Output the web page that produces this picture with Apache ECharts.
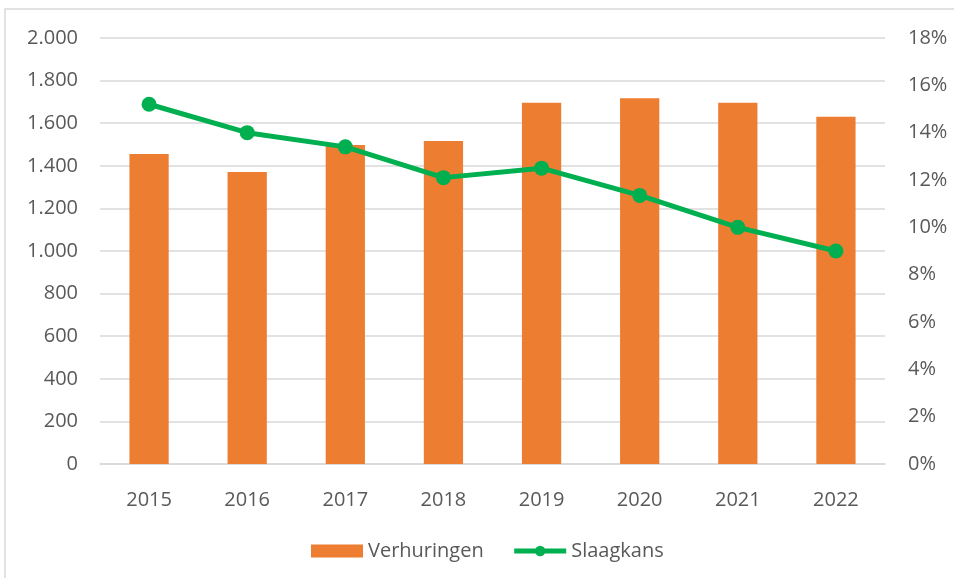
<!DOCTYPE html>
<html>
<head>
<meta charset="utf-8">
<script src="https://cdn.jsdelivr.net/npm/echarts@6/dist/echarts.min.js"></script>
<style>html,body{margin:0;padding:0;background:#fff;}#c{width:954px;height:578px;}</style>
</head>
<body>
<div id="c"></div>
<script>
const categories = ['2015','2016','2017','2018','2019','2020','2021','2022'];
const verhuringen = [1455, 1371, 1498, 1516, 1696, 1717, 1696, 1630];
const slaagkans = [15.2, 14.0, 13.4, 12.1, 12.5, 11.35, 10.0, 9.0];
const leftTicks = {min: 0, max: 2000, interval: 200};
const rightTicks = {min: 0, max: 18, interval: 2};

const FONT = '"Open Sans", "Liberation Sans", sans-serif';
const chart = echarts.init(document.getElementById('c'));
chart.setOption({
  animation: false,
  backgroundColor: '#ffffff',
  textStyle: {fontFamily: FONT},
  graphic: [{
    type: 'rect',
    shape: {x: 5, y: 9, width: 1200, height: 1200},
    style: {fill: 'none', stroke: '#d9d9d9', lineWidth: 1.5},
    silent: true
  }],
  grid: {left: 100, right: 69, top: 38, bottom: 114, containLabel: false},
  legend: {
    left: 311, top: 541, padding: 0,
    itemWidth: 52, itemHeight: 13, itemGap: 28,
    textStyle: {color: '#595959', fontSize: 20, fontFamily: FONT},
    data: [
      {name: 'Verhuringen', icon: 'rect'},
      {name: 'Slaagkans', lineStyle: {width: 5, color: '#00B050'}, itemStyle: {color: '#00B050'}}
    ]
  },
  xAxis: {
    type: 'category',
    data: categories,
    axisLine: {show: true, lineStyle: {color: '#d9d9d9', width: 1.5}},
    axisTick: {show: false},
    axisLabel: {color: '#595959', fontSize: 20, margin: 26, fontFamily: FONT}
  },
  yAxis: [{
    type: 'value',
    min: leftTicks.min, max: leftTicks.max, interval: leftTicks.interval,
    axisLine: {show: false}, axisTick: {show: false},
    splitLine: {lineStyle: {color: '#d9d9d9', width: 1.5}},
    axisLabel: {
      color: '#595959', fontSize: 20, margin: 22, fontFamily: FONT,
      formatter: v => v.toLocaleString('de-DE')
    }
  }, {
    type: 'value',
    min: rightTicks.min, max: rightTicks.max, interval: rightTicks.interval,
    axisLine: {show: false}, axisTick: {show: false},
    splitLine: {show: false},
    axisLabel: {
      color: '#595959', fontSize: 20, margin: 23, fontFamily: FONT,
      formatter: v => v + '%'
    }
  }],
  series: [{
    name: 'Verhuringen',
    type: 'bar',
    data: verhuringen,
    barWidth: '40%',
    itemStyle: {color: '#ED7D31'}
  }, {
    name: 'Slaagkans',
    type: 'line',
    yAxisIndex: 1,
    data: slaagkans,
    symbol: 'circle',
    symbolSize: 15,
    lineStyle: {color: '#00B050', width: 5},
    itemStyle: {color: '#00B050'}
  }]
});
</script>
</body>
</html>
